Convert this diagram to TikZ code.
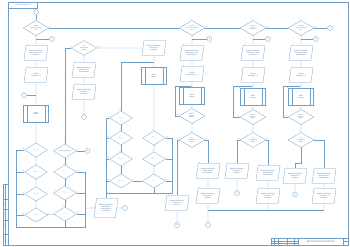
\documentclass[tikz,border=0pt]{standalone}
\usepackage{amsmath}
\usepackage{fontspec}
\setmainfont{Liberation Sans}
\usepackage{tikz}
\usepackage{xcolor}
\usetikzlibrary{positioning,arrows.meta,shapes.geometric}
\definecolor{linec}{RGB}{112,160,200}
\definecolor{txtc}{RGB}{70,105,150}

\begin{document}
\begin{tikzpicture}[x=2.4mm,y=-2.4mm,
  every node/.style={text=txtc,font=\fontsize{11}{12}\selectfont\itshape},
  ln/.style={draw=linec,line width=0.7mm},
  ar/.style={draw=linec,line width=0.7mm,-{Stealth[length=3.5mm,width=2.2mm]}},
  fr/.style={draw=linec,line width=1.3mm},
  gridln/.style={draw=linec,line width=0.6mm},
  cond/.style={diamond,aspect=1.8,draw=linec,line width=0.7mm,minimum width=62mm,minimum height=36mm,inner sep=0pt,align=center,font=\fontsize{9.5}{10.5}\selectfont\itshape},
  condS/.style={cond,minimum width=55mm,minimum height=34mm},
  io/.style={trapezium,trapezium left angle=74,trapezium right angle=106,trapezium stretches=true,draw=linec,line width=0.7mm,minimum width=58mm,minimum height=36mm,inner sep=1pt,align=center},
  sub/.style={rectangle,draw=linec,line width=0.7mm,minimum width=60mm,minimum height=41mm,align=center,
    path picture={\draw[linec,line width=0.7mm] ([xshift=8mm]path picture bounding box.north west) -- ([xshift=8mm]path picture bounding box.south west) ([xshift=-8mm]path picture bounding box.north east) -- ([xshift=-8mm]path picture bounding box.south east);}},
  conn/.style={circle,draw=linec,line width=0.7mm,minimum size=12mm,inner sep=0pt},
  lbl/.style={font=\fontsize{7}{7}\selectfont\itshape,inner sep=1pt},
  tiny/.style={font=\fontsize{5}{5}\selectfont\itshape,inner sep=0pt},
  nr/.style={label={[lbl,anchor=south east]north west:#1}},
  nd/.style={label={[lbl,anchor=south east]north:#1}},
  lE/.style={label={[lbl,anchor=south west]east:#1}},
  lS/.style={label={[lbl,anchor=north west]south:#1}},
  lW/.style={label={[lbl,anchor=south east]west:#1}}]
  \useasboundingbox (0,0) rectangle (350,247);

  \draw[fr] (8.3,2.1) rectangle (347.9,244.9);
  \draw[fr] (8.3,2.1) rectangle (37.4,7.9);
  \node[rotate=180,font=\fontsize{9}{9}\selectfont\itshape] (topnum) at (22.85,5) {ДП.230105.051.00.000 БС};
  \draw[fr] (3.3,184.5) rectangle (8.3,244.9);
  \draw[fr] (5.4,184.5) -- (5.4,244.9);
  \foreach \y in {199.1,209.5,219.9,234.5} \draw[fr] (3.3,\y) -- (8.3,\y);
  \node[tiny,rotate=90] (s1) at (4.35,239.7) {Инв. № подл.};
  \node[tiny,rotate=90] (s2) at (4.35,227.2) {Подп. и дата};
  \node[tiny,rotate=90] (s3) at (4.35,214.7) {Взам. инв. №};
  \node[tiny,rotate=90] (s4) at (4.35,204.3) {Инв. № дубл.};
  \node[tiny,rotate=90] (s5) at (4.35,191.8) {Подп. и дата};

  \draw[fr] (270.9,238.7) rectangle (347.9,244.9);
  \foreach \x in {273.8,277.9,287.5,293.7} \draw[gridln] (\x,238.7) -- (\x,244.9);
  \draw[fr] (297.9,238.7) -- (297.9,244.9);
  \draw[fr] (343.7,238.7) -- (343.7,244.9);
  \draw[gridln] (270.9,240.8) -- (297.9,240.8) (270.9,242.8) -- (297.9,242.8);
  \draw[gridln] (343.7,241.6) -- (347.9,241.6);
  \node[tiny] (tb1) at (272.35,243.85) {Изм.};
  \node[tiny] (tb2) at (275.85,243.85) {Лист};
  \node[tiny] (tb3) at (282.7,243.85) {№ докум.};
  \node[tiny] (tb4) at (290.6,243.85) {Подп.};
  \node[tiny] (tb5) at (295.8,243.85) {Дата};
  \node[tiny] (tb6) at (345.8,240.2) {Лист};
  \node[lbl] (tb7) at (345.8,243.2) {2};
  \node[font=\fontsize{16}{16}\selectfont\itshape] (tbname) at (320.8,241.6) {ДП.230105.051.00.000 БС};
  \node[tiny] (cp1) at (291,246.3) {Копировал};
  \node[tiny] (cp2) at (335,246.3) {Формат A1};

  \node[conn] (cA) at (36,12) {Б};
  \node[cond,nd=1,lE=Нет,lS=Да] (dA1) at (36,28) {Нажата\\кнопка «таблица\\1.1»?};
  \node[conn] (cA2) at (52,39) {А};
  \node[io,nr=2] (pA1) at (36,53) {Вывод сообщения\\«Выберите тип\\отливки»};
  \node[io,nr=3] (pA2) at (36,75) {Выбор\\таблицы 1.1};
  \node[conn] (cA3) at (24,95) {Д};
  \node[sub,nr=4] (sA) at (36,113.5) {Ввод\\данных};
  \node[condS,nd=5,lW=Нет,lS=Да] (dA2) at (36,150) {$\theta^{\text{о}}_{\max}\le\theta$};
  \node[condS,nd=6,lW=Нет,lS=Да] (dA3) at (36,172) {$\theta^{\text{ф}}_{\max}\le\theta$};
  \node[condS,nd=7,lW=Нет,lS=Да] (dA4) at (36,194) {$\theta^{\text{к}}_{\max}\le\theta$};
  \node[condS,nd=8,lW=Нет,lE=Да] (dA5) at (36,215) {$\theta^{\text{с}}_{\max}\le\theta$};

  \node[condS,nd=9,lE=Нет,lS=Да] (dB1) at (65,151) {Новая разработка};
  \node[conn] (cB) at (87.5,151) {В};
  \node[condS,nd=10,lE=Да,lS=Нет] (dB2) at (65,172) {$\theta^{\max}\ge\theta$};
  \node[condS,nd=11,lE=Да,lS=Нет] (dB3) at (65,193) {$\theta^{\min}\ge\theta$};
  \node[condS,nd=12,lE=Да] (dB4) at (65,214) {$\theta^{*}\ge\theta$};
  \node[io,nr=13,minimum height=46mm] (pAB) at (106,208) {Вывод сообщения\\«Выбранный\\материал не\\подходит»};
  \node[conn] (cAB) at (125,208) {Г};

  \node[cond,nd=14,lW=Да,lE=Нет] (dC) at (84,48) {Тип\\разработки\\новая?};
  \node[io,nr=15] (pC1) at (84,70) {Вывод сообщения\\«Ввод данных\\для расчета»};
  \node[io,nr=16] (pC2) at (84,92) {Вывод сообщения\\«Таблица 1.1\\создана»};
  \node[conn] (cC) at (84,117) {Г};

  \node[io,nr=17] (pD) at (154,48) {Вывод сообщения\\«Таблица 1.1\\создана»};
  \coordinate (jD) at (154,62);
  \node[sub,nr=18] (sD) at (154,76) {Ввод\\данных};

  \node[condS,nd=19,lW=Нет,lS=Да] (dE1) at (121,118) {$\theta_{\max}\le\theta$};
  \node[condS,nd=20,lW=Нет,lS=Да] (dE2) at (121,138) {$\theta^{\text{о}}_{\max}\le\theta$};
  \node[condS,nd=21,lW=Нет,lS=Да] (dE3) at (121,159) {$\theta^{\text{ф}}_{\max}\le\theta$};
  \node[condS,nd=22,lW=Нет,lE=Да] (dE4) at (121,181) {$\theta^{\text{с}}_{\max}\le\theta$};
  \node[condS,nd=23,lE=Нет,lS=Да] (dF1) at (154,138) {$\theta^{\max}\ge\theta$};
  \node[condS,nd=24,lE=Нет,lS=Да] (dF2) at (154,159) {$\theta^{\min}\ge\theta$};
  \node[condS,nd=25,lE=Нет] (dF3) at (154,181) {$\theta^{*}\ge\theta$};
  \coordinate (fR) at (172,193);

  \node[cond,nd=26,lE=Нет,lS=Да] (dG1) at (192,28) {Нажата\\кнопка «таблица\\1.2»?};
  \node[conn] (cG) at (209.5,39) {Д};
  \node[io,nr=27] (pG1) at (192,53) {Вывод сообщения\\«Выберите тип\\разработки»};
  \node[io,nr=28] (pG2) at (192,74) {Выбор\\таблицы 1.2};
  \coordinate (gL) at (175,86);
  \node[sub,nr=29] (sG) at (192,96) {Ввод\\данных};
  \node[cond,nd=30,lW=Нет,lS=Да] (dG2) at (192,116) {Данные\\введены\\верно?};
  \node[cond,nd=31,lW=Нет,lE=Да] (dG3) at (192,140) {Тип\\разработки\\новая?};
  \node[io,nr=32] (pG3) at (177,203) {Вывод сообщения\\«Таблица 1.2\\создана»};
  \node[conn] (cG3) at (177,225) {В};
  \node[io,nr=33] (pG4) at (208,171) {Вывод сообщения\\«Ввод данных\\для расчета»};
  \node[io,nr=34] (pG5) at (208,196) {Вывод сообщения\\«Таблица 1.2\\создана»};
  \coordinate (jG) at (208,210);
  \node[conn] (cG5) at (208,225) {Г};

  \node[cond,nd=35,lE=Нет,lS=Да] (dH1) at (253,28) {Нажата\\кнопка\\«расчет»?};
  \node[conn] (cH) at (268,39) {Е};
  \node[io,nr=36] (pH1) at (253,53) {Вывод сообщения\\«Выберите тип\\расчета»};
  \node[io,nr=37] (pH2) at (253,75) {Расчет\\таблицы 1.4};
  \coordinate (hL) at (233,86);
  \node[sub,nr=38] (sH) at (253,97) {Ввод\\данных};
  \node[cond,nd=39,lW=Нет,lS=Да] (dH2) at (253,117) {Данные\\введены\\верно?};
  \node[cond,nd=40,lW=Нет,lE=Да] (dH3) at (253,140) {Тип\\разработки\\новая?};
  \node[io,nr=41] (pH3) at (237,171) {Вывод сообщения\\«Таблица 1.4\\создана»};
  \node[conn] (cH3) at (237,193) {В};
  \node[io,nr=42] (pH4) at (268,173) {Вывод сообщения\\«Ввод данных\\для расчета»};
  \node[io,nr=43] (pH5) at (268,196) {Вывод сообщения\\«Таблица 1.4\\создана»};

  \node[cond,nd=44,lE=Нет,lS=Да] (dI1) at (301,28) {Нажата\\кнопка «таблица\\1.3»?};
  \node[conn] (cI) at (316,39) {Ж};
  \node[conn] (cEnd) at (330,28) {Е};
  \node[io,nr=45] (pI1) at (301,53) {Вывод сообщения\\«Выберите тип\\разработки»};
  \node[io,nr=46] (pI2) at (301,75) {Выбор\\таблицы 1.3};
  \coordinate (iL) at (283,86);
  \node[sub,nr=47] (sI) at (301,97) {Ввод\\данных};
  \node[cond,nd=48,lW=Нет,lS=Да] (dI2) at (301,117) {Данные\\введены\\верно?};
  \node[cond,nd=49,lS=Нет,lE=Да] (dI3) at (301,140) {Тип\\разработки\\новая?};
  \coordinate (jI) at (301,163);
  \node[io,nr=50] (pI3) at (295,176) {Вывод сообщения\\«Таблица 1.3\\создана»};
  \node[conn] (cI3) at (295,194.5) {В};
  \node[io,nr=51] (pI4) at (324,176) {Вывод сообщения\\«Ввод данных\\для расчета»};
  \node[io,nr=52] (pI5) at (324,196) {Вывод сообщения\\«Таблица 1.3\\создана»};

  \draw[ln] (cA) -- (dA1);
  \draw[ln] (dA1) -- (dG1) -- (dH1) -- (dI1) -- (cEnd);
  \draw[ln] (dA1) -- (pA1) -- (pA2) -- (sA) -- (dA2) -- (dA3) -- (dA4) -- (dA5);
  \draw[ln] (cA2) -- (cA2 -| dA1);
  \draw[ln] (cA3) -- (cA3 -| dA1);
  \draw[ln] (dA2.west) -| (16,227) -- (85,227) |- (dB2.east);
  \draw[ln] (dA3.west) -- (16,172);
  \draw[ln] (dA4.west) -- (16,194);
  \draw[ln] (dA5.west) -- (16,215);
  \draw[ln] (dA5) -- (dB4);
  \draw[ln] (dB1) -- (dB2) -- (dB3) -- (dB4);
  \draw[ln] (dB1) -- (cB);
  \draw[ln] (dB3.east) -- (85,193);
  \draw[ln] (dB4.east) -- (85,214);
  \draw[ln] (dB4.south) -- (65,227);
  \draw[ar] (85,208) -- (pAB.west);
  \draw[ln] (pAB) -- (cAB);

  \draw[ln] (dC.west) -| (dB1.north);
  \draw[ln] (dC) -- (pC1) -- (pC2) -- (cC);
  \draw[ln] (dC) -- (pD);
  \draw[ln] (pD) -- (sD) -- (dF1) -- (dF2) -- (dF3);
  \draw[ln] (jD) -| (dE1.north);
  \draw[ln] (dE1) -- (dE2) -- (dE3) -- (dE4);
  \draw[ln] (dE4) -- (dF3);
  \draw[ln] (dE1.west) -| (pAB.north);
  \draw[ln] (dE2.west) -- (dE2.west -| pAB.north);
  \draw[ln] (dE3.west) -- (dE3.west -| pAB.north);
  \draw[ln] (dE4.west) -- (dE4.west -| pAB.north);
  \draw[ln] (dF1.east) -| (fR) -- (fR -| pAB.north);
  \draw[ln] (dF2.east) -- (dF2.east -| fR);
  \draw[ln] (dF3.east) -- (dF3.east -| fR);
  \draw[ln] (dF3.south) -- (dF3.south |- fR);

  \draw[ln] (dG1) -- (pG1) -- (pG2) -- (sG) -- (dG2) -- (dG3);
  \draw[ln] (cG) -- (cG -| dG1);
  \draw[ar] (dG2.west) -| (gL) -- (gL -| sG.north);
  \draw[ln] (dG3.west) -| (pG3.north);
  \draw[ln] (pG3) -- (cG3);
  \draw[ln] (dG3.east) -| (pG4.north);
  \draw[ln] (pG4) -- (pG5) -- (cG5);
  \draw[ln] (jG) -- (jG -| pI5);

  \draw[ln] (dH1) -- (pH1) -- (pH2) -- (sH) -- (dH2) -- (dH3);
  \draw[ln] (cH) -- (cH -| dH1);
  \draw[ar] (dH2.west) -| (hL) -- (hL -| sH.north);
  \draw[ln] (dH3.west) -| (pH3.north);
  \draw[ln] (pH3) -- (cH3);
  \draw[ln] (dH3.east) -| (pH4.north);
  \draw[ln] (pH4) -- (pH5) -- (pH5 |- jG);

  \draw[ln] (dI1) -- (pI1) -- (pI2) -- (sI) -- (dI2) -- (dI3);
  \draw[ln] (cI) -- (cI -| dI1);
  \draw[ar] (dI2.west) -| (iL) -- (iL -| sI.north);
  \draw[ln] (dI3.south) -- (jI) -| (pI3.north);
  \draw[ln] (pI3) -- (cI3);
  \draw[ln] (dI3.east) -| (pI4.north);
  \draw[ln] (pI4) -- (pI5) -- (pI5 |- jG);
\end{tikzpicture}
\end{document}
